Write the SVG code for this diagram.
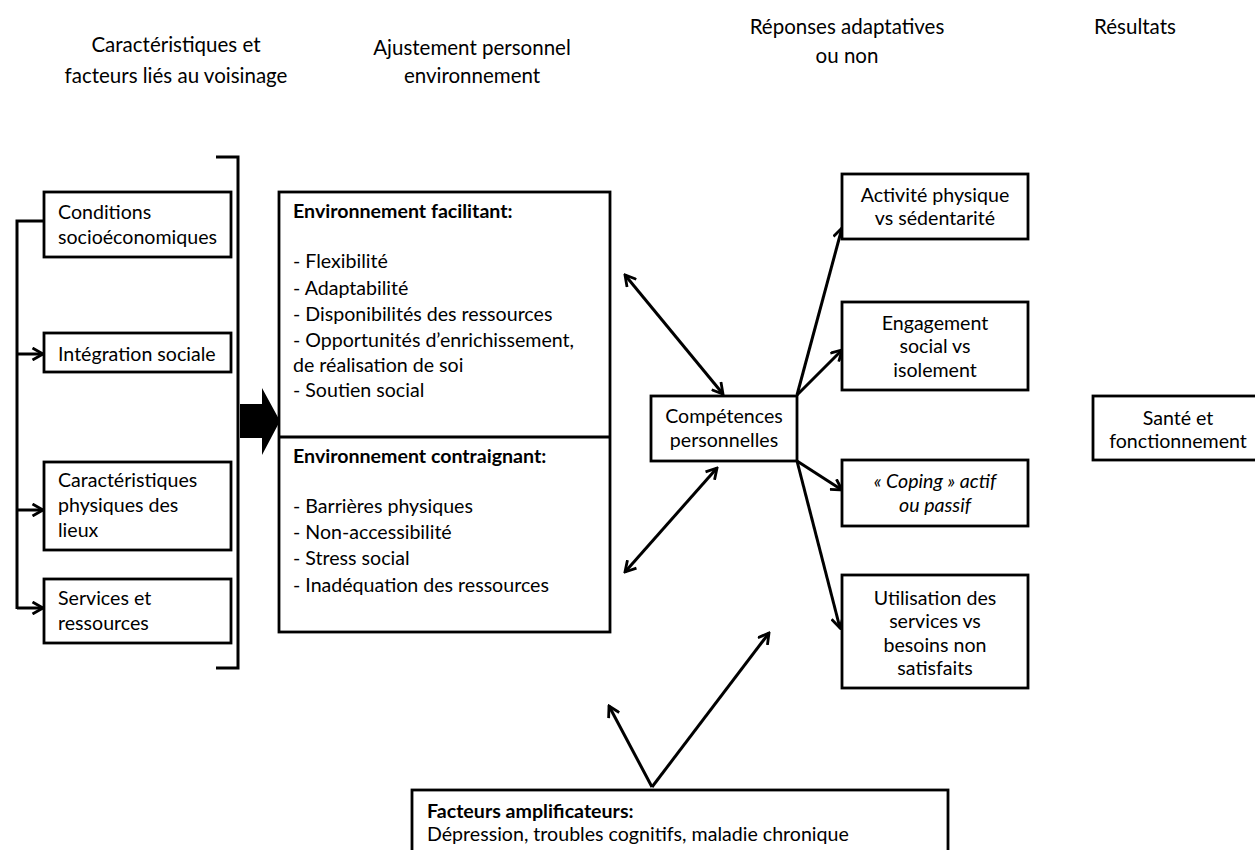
<svg xmlns="http://www.w3.org/2000/svg" width="1255" height="850" viewBox="0 0 1255 850">
<defs>
<style>
text{font-family:Lato,"Liberation Sans",sans-serif;font-size:19.6px;fill:#000;}
.h{font-size:20.5px;text-anchor:middle;}
.c{text-anchor:middle;}
.b{font-weight:bold;}
.i{font-style:italic;}
.box{fill:#fff;stroke:#000;stroke-width:2.8;}
.ln{fill:none;stroke:#000;stroke-width:3;}
.ar{fill:none;stroke:#000;stroke-width:3;marker-end:url(#ah);}
.da{fill:none;stroke:#000;stroke-width:3;marker-start:url(#ah);marker-end:url(#ah);}
</style>
<marker id="ah" viewBox="0 0 14 14" refX="12" refY="7" markerWidth="14" markerHeight="14" markerUnits="userSpaceOnUse" orient="auto-start-reverse">
<path d="M1.5,1 L12,7 L1.5,13" fill="none" stroke="#000" stroke-width="2.8" stroke-linejoin="miter"/>
</marker>
</defs>
<rect width="1255" height="850" fill="#fff"/>

<g id="headers">
<text class="h" x="176" y="52">Caractéristiques et</text>
<text class="h" x="176" y="83">facteurs liés au voisinage</text>
<text class="h" x="472" y="55">Ajustement personnel</text>
<text class="h" x="472" y="83">environnement</text>
<text class="h" x="847" y="34">Réponses adaptatives</text>
<text class="h" x="847" y="63">ou non</text>
<text class="h" x="1135" y="34">Résultats</text>
</g>

<g id="connectors">
<path class="ln" d="M44,221 L17,221 L17,609"/>
<path class="ar" d="M17,354 L43,354"/>
<path class="ar" d="M17,510 L43,510"/>
<path class="ar" d="M17,608 L43,608"/>
<path class="ln" d="M216,157 L238,157 L238,668 L216,668"/>
<polygon points="240,404 262,404 262,388 280,421 262,455 262,438 240,438" fill="#000"/>
<path class="da" d="M625,275 L723,394"/>
<path class="da" d="M625,572 L717,468"/>
<path class="ar" d="M797,395 L842,228"/>
<path class="ar" d="M797,395 L842,350"/>
<path class="ar" d="M797,461 L842,490"/>
<path class="ar" d="M797,461 L840,628"/>
<path class="ar" d="M652,787 L609,706"/>
<path class="ar" d="M652,787 L769,633"/>
</g>

<g id="conditions">
<rect class="box" x="44" y="192" width="187" height="65"/>
<text x="58" y="219">Conditions</text>
<text x="58" y="244">socioéconomiques</text>
</g>
<g id="integration">
<rect class="box" x="44" y="333" width="187" height="39"/>
<text x="58" y="361">Intégration sociale</text>
</g>
<g id="caracteristiques">
<rect class="box" x="44" y="462" width="187" height="88"/>
<text x="58" y="487">Caractéristiques</text>
<text x="58" y="512">physiques des</text>
<text x="58" y="537">lieux</text>
</g>
<g id="services">
<rect class="box" x="44" y="579" width="187" height="64"/>
<text x="58" y="605">Services et</text>
<text x="58" y="630">ressources</text>
</g>

<g id="environnement">
<rect class="box" x="279" y="192" width="331" height="440"/>
<line x1="279" y1="437" x2="610" y2="437" stroke="#000" stroke-width="2.8"/>
<text class="b" x="293" y="218">Environnement facilitant:</text>
<text x="293" y="268">- Flexibilité</text>
<text x="293" y="295">- Adaptabilité</text>
<text x="293" y="321">- Disponibilités des ressources</text>
<text x="293" y="347">- Opportunités d’enrichissement,</text>
<text x="293" y="372">de réalisation de soi</text>
<text x="293" y="397">- Soutien social</text>
<text class="b" x="293" y="463">Environnement contraignant:</text>
<text x="293" y="513">- Barrières physiques</text>
<text x="293" y="539">- Non-accessibilité</text>
<text x="293" y="565">- Stress social</text>
<text x="293" y="592">- Inadéquation des ressources</text>
</g>

<g id="competences">
<rect class="box" x="651" y="396" width="146" height="65"/>
<text class="c" x="724" y="423">Compétences</text>
<text class="c" x="724" y="447">personnelles</text>
</g>
<g id="activite">
<rect class="box" x="842" y="174" width="186" height="65"/>
<text class="c" x="935" y="202">Activité physique</text>
<text class="c" x="935" y="225">vs sédentarité</text>
</g>
<g id="engagement">
<rect class="box" x="842" y="302" width="186" height="88"/>
<text class="c" x="935" y="330">Engagement</text>
<text class="c" x="935" y="353">social vs</text>
<text class="c" x="935" y="377">isolement</text>
</g>
<g id="coping">
<rect class="box" x="842" y="460" width="186" height="66"/>
<text class="c i" x="935" y="488">« Coping » actif</text>
<text class="c i" x="935" y="512">ou passif</text>
</g>
<g id="utilisation">
<rect class="box" x="842" y="575" width="186" height="113"/>
<text class="c" x="935" y="605">Utilisation des</text>
<text class="c" x="935" y="628">services vs</text>
<text class="c" x="935" y="652">besoins non</text>
<text class="c" x="935" y="675">satisfaits</text>
</g>
<g id="sante">
<rect class="box" x="1093" y="396" width="175" height="64"/>
<text class="c" x="1178" y="425">Santé et</text>
<text class="c" x="1178" y="448">fonctionnement</text>
</g>
<g id="facteurs">
<rect class="box" x="412" y="790" width="536" height="80"/>
<text class="b" x="427" y="818">Facteurs amplificateurs:</text>
<text x="427" y="841">Dépression, troubles cognitifs, maladie chronique</text>
</g>
</svg>
